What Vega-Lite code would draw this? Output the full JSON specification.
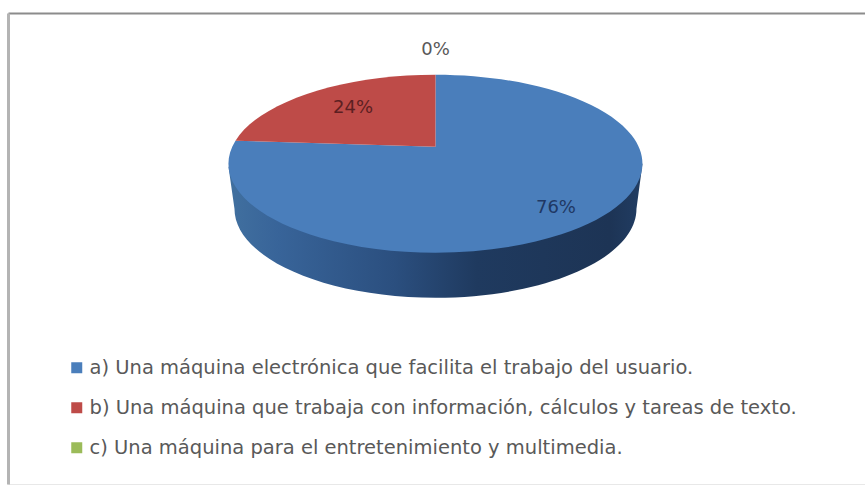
{
  "$schema": "https://vega.github.io/schema/vega-lite/v6.json",
  "width": 857,
  "height": 471,
  "autosize": {"type": "none"},
  "padding": {"left": 8, "top": 13, "right": 0, "bottom": 2},
  "background": "#ffffff",
  "view": {"stroke": "#e8e8e8", "strokeWidth": 1, "fill": "#ffffff"},
  "config": {"font": "DejaVu Sans"},
  "data": {
    "values": [
      {"opcion": "a", "respuesta": "a) Una máquina electrónica que facilita el trabajo del usuario.", "porcentaje": 0.76},
      {"opcion": "b", "respuesta": "b) Una máquina que trabaja con información, cálculos y tareas de texto.", "porcentaje": 0.24},
      {"opcion": "c", "respuesta": "c) Una máquina para el entretenimiento y multimedia.", "porcentaje": 0}
    ]
  },
  "layer": [
    {
      "transform": [{"filter": "datum.porcentaje > 0.5"}],
      "mark": {
        "type": "point",
        "filled": true,
        "size": 4,
        "opacity": 1,
        "strokeWidth": 0,
        "fill": {
          "x1": 0, "y1": 0, "x2": 1, "y2": 0,
          "gradient": "linear",
          "stops": [
            {"offset": 0, "color": "#41709f"},
            {"offset": 0.12, "color": "#386499"},
            {"offset": 0.4, "color": "#2b4f7f"},
            {"offset": 0.6, "color": "#1f3a5f"},
            {"offset": 0.92, "color": "#1d3455"},
            {"offset": 1, "color": "#213d63"}
          ]
        }
      },
      "encoding": {
        "x": {"datum": 0.4988, "type": "quantitative", "scale": {"domain": [0, 1]}, "axis": {"orient": "top", "title": null, "labels": false, "ticks": false, "grid": false, "domainColor": "#8c8c8c", "domainWidth": 2}},
        "y": {"datum": 0.68, "type": "quantitative", "scale": {"domain": [0, 1]}, "axis": {"orient": "left", "title": null, "labels": false, "ticks": false, "grid": false, "domainColor": "#b4b4b4", "domainWidth": 3}},
        "shape": {"value": "M-207,3 L-201,45 A201,89 0 0 0 201,45 L207,0 Z"}
      }
    },
    {
      "mark": {"type": "point", "filled": true, "size": 4, "opacity": 1, "strokeWidth": 0},
      "encoding": {
        "x": {"datum": 0.4988, "type": "quantitative"},
        "y": {"datum": 0.68, "type": "quantitative"},
        "shape": {
          "field": "opcion",
          "type": "nominal",
          "legend": null,
          "scale": {
            "domain": ["a", "b", "c"],
            "range": [
              "M0,-17 L0,-89 A207,89 0 1 1 -200,-23 Z",
              "M0,-17 L0,-89 A207,89 0 0 0 -200,-23 Z",
              "M0,-89 Z"
            ]
          }
        },
        "color": {
          "field": "respuesta",
          "type": "nominal",
          "sort": null,
          "scale": {"range": ["#4a7ebb", "#be4b48", "#9bbb59"]},
          "legend": {
            "title": null,
            "orient": "none",
            "legendX": 59,
            "legendY": 345,
            "direction": "vertical",
            "symbolType": "square",
            "symbolSize": 121,
            "symbolStrokeWidth": 0,
            "symbolOpacity": 1,
            "labelFont": "DejaVu Sans",
            "labelFontSize": 19.5,
            "labelColor": "#595959",
            "labelLimit": 800,
            "labelOffset": 3,
            "rowPadding": 19
          }
        }
      }
    },
    {
      "transform": [{"filter": "datum.porcentaje > 0.5"}],
      "mark": {"type": "text", "font": "DejaVu Sans", "fontSize": 18, "color": "#1f3864"},
      "encoding": {
        "x": {"datum": 0.6394, "type": "quantitative"},
        "y": {"datum": 0.586, "type": "quantitative"},
        "text": {"field": "porcentaje", "type": "quantitative", "format": ".0%"}
      }
    },
    {
      "transform": [{"filter": "datum.porcentaje > 0 && datum.porcentaje < 0.5"}],
      "mark": {"type": "text", "font": "DejaVu Sans", "fontSize": 18, "color": "#5c1f22"},
      "encoding": {
        "x": {"datum": 0.4026, "type": "quantitative"},
        "y": {"datum": 0.798, "type": "quantitative"},
        "text": {"field": "porcentaje", "type": "quantitative", "format": ".0%"}
      }
    },
    {
      "transform": [{"filter": "datum.porcentaje === 0"}],
      "mark": {"type": "text", "font": "DejaVu Sans", "fontSize": 18, "color": "#595959"},
      "encoding": {
        "x": {"datum": 0.4988, "type": "quantitative"},
        "y": {"datum": 0.9214, "type": "quantitative"},
        "text": {"field": "porcentaje", "type": "quantitative", "format": ".0%"}
      }
    }
  ]
}
